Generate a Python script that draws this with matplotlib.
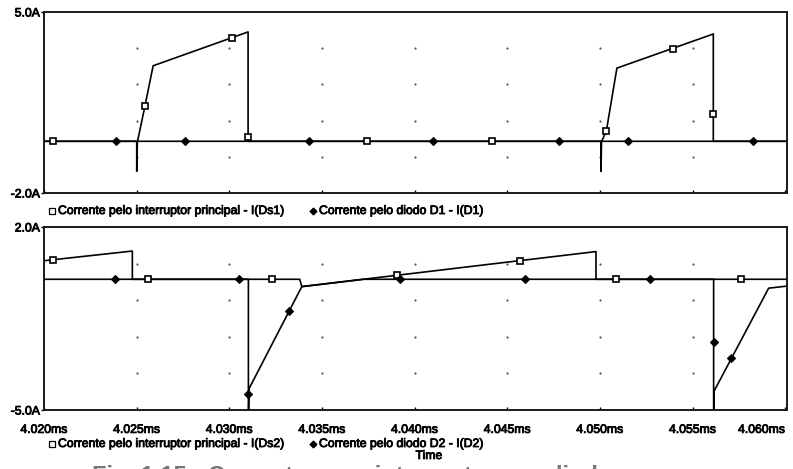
import numpy as np
import matplotlib
matplotlib.use('Agg')
import matplotlib.pyplot as plt
import matplotlib.patheffects as pe
from matplotlib.lines import Line2D

plt.rcParams['font.family'] = ['Liberation Sans', 'DejaVu Sans']

# time axis (ms)
x_ticks = [4.020, 4.025, 4.030, 4.035, 4.040, 4.045, 4.050, 4.055, 4.060]
x_labels = ['4.020ms', '4.025ms', '4.030ms', '4.035ms', '4.040ms',
            '4.045ms', '4.050ms', '4.055ms', '4.060ms']
t_end = 4.0601

# top plot: I(Ds1) and I(D1)
ds1_t = [4.020, 4.025049, 4.02545, 4.02589, 4.031015, 4.031015,
         4.05010, 4.05035, 4.05092, 4.056123, 4.056123, t_end]
ds1_i = [0, 0, 1.37, 2.92, 4.23, 0,
         0, 0.40, 2.83, 4.15, 0, 0]
d1_t = [4.020, 4.025005, 4.025005, 4.02504, 4.05006, 4.05006, 4.05009, t_end]
d1_i = [0, 0, -1.16, 0, 0, -1.16, 0, 0]

ds1_mark_t = [4.02049, 4.02545, 4.03015, 4.031015, 4.03744, 4.04419,
              4.05035, 4.05396, 4.056123]
ds1_mark_i = [0, 1.37, 4.0, 0.17, 0, 0, 0.40, 3.57, 1.07]
d1_mark_t = [4.02389, 4.02761, 4.03431, 4.04100, 4.04781, 4.05153, 4.05828]
d1_mark_i = [0, 0, 0, 0, 0, 0, 0]

# bottom plot: I(Ds2) and I(D2)
ds2_t = [4.020, 4.024768, 4.024768, 4.03380, 4.033915, 4.04979, 4.04979, t_end]
ds2_i = [0.71, 1.08, 0, 0, -0.28, 1.06, 0, 0]
d2_t = [4.020, 4.031031, 4.031031, 4.031069, 4.033915, 4.03723,
        4.056140, 4.056140, 4.056170, 4.05911, t_end]
d2_i = [0, 0, -5.6, -4.18, -0.28, 0,
        0, -5.6, -4.27, -0.34, -0.26]

ds2_mark_t = [4.02050, 4.02563, 4.03233, 4.03904, 4.04570, 4.05087, 4.05762]
ds2_mark_i = [0.75, 0, 0, 0.16, 0.71, 0, 0]
d2_mark_t = [4.023834, 4.030529, 4.031031, 4.033245, 4.039222, 4.045972,
             4.052721, 4.056140, 4.057079]
d2_mark_i = [0, 0, -4.39, -1.20, 0, 0, 0, -2.39, -3.03]

top_ylim = (-2.0, 5.0)
bot_ylim = (-5.0, 2.0)
top_grid_rows = [-0.6, 0.8, 2.2, 3.6]
bot_grid_rows = [-3.6, -2.2, -0.8, 0.6]

legend_top = ['Corrente pelo interruptor principal - I(Ds1)', 'Corrente pelo diodo D1 - I(D1)']
legend_bot = ['Corrente pelo interruptor principal - I(Ds2)', 'Corrente pelo diodo D2 - I(D2)']

W, H = 793, 469
fig = plt.figure(figsize=(W / 100, H / 100), dpi=100)
ax1 = fig.add_axes([44 / W, 1 - 193 / H, 743 / W, 181 / H])
ax2 = fig.add_axes([44 / W, 1 - 410 / H, 743 / W, 183 / H])

heavy = [pe.withStroke(linewidth=0.6, foreground='black')]
sq = dict(marker='s', ms=4.4, mfc='white', mec='black', mew=1.2, ls='none')
dm = dict(marker='D', ms=3.8, mfc='black', mec='black', mew=0.8, ls='none')


def style_axes(ax, ylim, rows, ylabels, show_x):
    ax.set_xlim(4.020, t_end)
    ax.set_ylim(*ylim)
    ax.set_yticks(list(ylim))
    ax.set_yticklabels(ylabels, fontsize=8.8)
    ax.set_xticks(x_ticks)
    if show_x:
        ax.set_xticklabels(x_labels, fontsize=8.8)
        lbls = ax.get_xticklabels()
        lbls[-1].set_ha('right')
        lbls[-1].set_x(4.0601)
    else:
        ax.set_xticklabels([])
    for lb in ax.get_xticklabels() + ax.get_yticklabels():
        lb.set_path_effects(heavy)
    ax.tick_params(axis='y', direction='out', length=2.5, width=1, pad=0.5)
    ax.tick_params(axis='x', direction='in', length=2.5, width=1, pad=10)
    for s in ax.spines.values():
        s.set_linewidth(1.4)
        s.set_color('#1a1a1a')
    gx, gy = np.meshgrid(x_ticks[1:-1], rows)
    ax.scatter(gx.ravel(), gy.ravel(), s=2.5, color='#555555', lw=0, zorder=1)


style_axes(ax1, top_ylim, top_grid_rows, ['-2.0A', '5.0A'], False)
style_axes(ax2, bot_ylim, bot_grid_rows, ['-5.0A', '2.0A'], True)

ax1.plot(ds1_t, ds1_i, color='black', lw=1.2, zorder=3)
ax1.plot(d1_t, d1_i, color='black', lw=1.2, zorder=3)
ax1.plot(ds1_mark_t, ds1_mark_i, zorder=4, **sq)
ax1.plot(d1_mark_t, d1_mark_i, zorder=4, **dm)

ax2.plot(ds2_t, ds2_i, color='black', lw=1.2, zorder=3)
ax2.plot(d2_t, d2_i, color='black', lw=1.2, zorder=3)
ax2.plot(ds2_mark_t, ds2_mark_i, zorder=4, **sq)
ax2.plot(d2_mark_t, d2_mark_i, zorder=4, **dm)

# legends below each plot
for ypix, labels in [(211, legend_top), (444, legend_bot)]:
    y = 1 - ypix / H
    fig.add_artist(Line2D([51.5 / W], [y], transform=fig.transFigure,
                          marker='s', ms=4, mfc='white', mec='black', mew=0.9))
    fig.text(58 / W, y, labels[0], fontsize=8.8, va='center', ha='left',
             path_effects=heavy)
    fig.add_artist(Line2D([313 / W], [y], transform=fig.transFigure,
                          marker='D', ms=3.4, mfc='black', mec='black'))
    fig.text(319 / W, y, labels[1], fontsize=8.8, va='center', ha='left',
             path_effects=heavy)

fig.text(429 / W, 1 - 456 / H, 'Time', fontsize=8.8, va='center', ha='center',
         path_effects=heavy)

# caption of the scanned page, cut at the bottom edge as in the scan
fig.text(92 / W, 1 - 465 / H, 'Fig. 1.15 - Correntes nos interruptores e diodos',
         fontsize=17, va='top', ha='left', color='#777777', fontweight='bold')

fig.savefig('out.png', dpi=100)
